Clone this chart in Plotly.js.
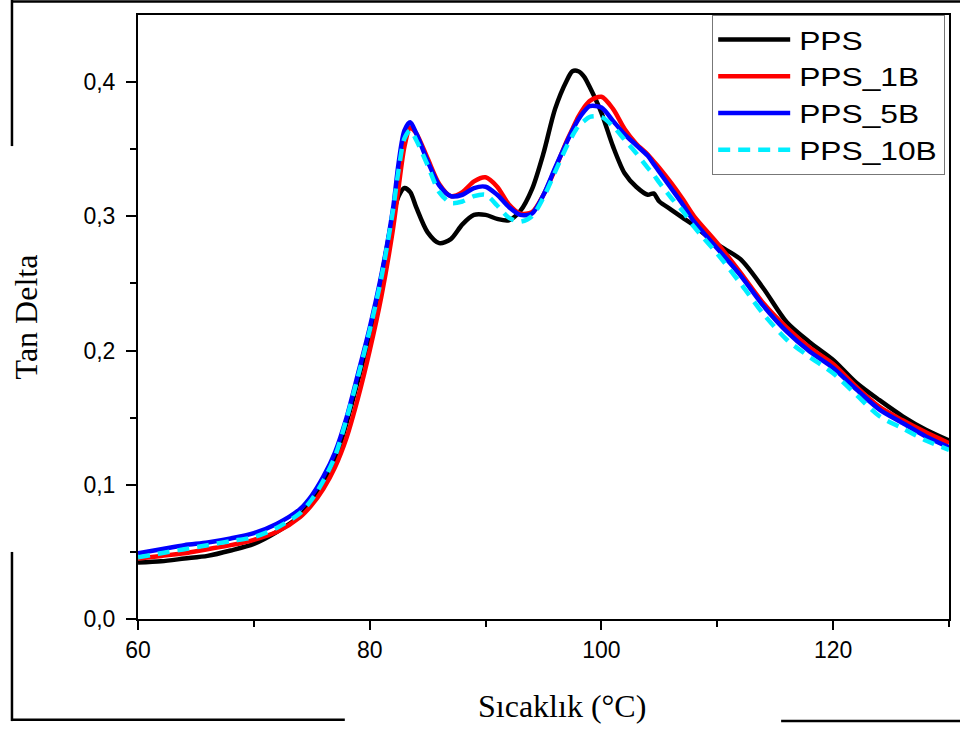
<!DOCTYPE html>
<html>
<head>
<meta charset="utf-8">
<script src="https://cdn.plot.ly/plotly-3.0.1.min.js"></script>
<style>
  html, body { margin: 0; padding: 0; background: #fff; }
  #chart { width: 960px; height: 729px; }
</style>
</head>
<body>
<div id="chart"></div>
<script>
// Temperature (°C)
const temperature = [60,62,64,66,68,70,72,74,75,76,77,78,79,80,81,82,82.5,83,83.5,84,85,86,87,88,89,90,91,92,93,94,95,96,97,97.5,98,98.5,99,100,101,102,103,104,104.5,105,106,107,108,110,112,114,116,118,120,122,124,126,128,130];

const seriesNames = ["PPS", "PPS_1B", "PPS_5B", "PPS_10B"];

const tanPPS = [0.042,0.043,0.045,0.047,0.051,0.056,0.065,0.077,
  0.088,0.101,0.118,0.146,0.178,0.212,0.254,0.300,
  0.315,0.321,0.318,
  0.307,0.288,0.280,0.283,0.294,0.301,0.301,0.298,0.297,0.304,0.320,0.347,0.380,0.401,0.408,0.408,0.404,0.396,0.377,0.352,0.332,0.322,0.316,
  0.317,0.311,
  0.305,0.299,0.293,
  0.279,0.268,0.246,0.221,0.206,0.193,0.176,0.163,0.151,0.141,0.133];

const tanPPS1B = [0.045,0.047,0.049,0.052,0.055,0.059,0.065,0.076,
  0.085,0.097,0.113,0.135,0.165,0.200,0.240,0.290,
  0.322,0.352,0.366,
  0.362,0.343,0.324,0.315,0.318,0.326,0.329,0.322,0.309,0.302,0.303,0.316,0.335,0.356,0.365,0.374,0.381,0.386,0.389,0.380,0.365,0.354,0.346,
  0.341,0.336,
  0.325,0.313,0.300,
  0.280,0.258,0.235,0.217,0.202,0.190,0.173,0.158,0.148,0.139,0.131];

const tanPPS5B = [0.049,0.052,0.055,0.057,0.060,0.064,0.071,0.082,
  0.092,0.106,0.124,0.150,0.183,0.217,0.256,0.305,
  0.340,0.364,0.370,
  0.362,0.341,0.323,0.315,0.316,0.321,0.322,0.316,0.307,0.301,0.302,0.316,0.336,0.355,0.364,0.372,0.378,0.382,0.381,0.371,0.361,0.353,0.345,
  0.339,0.333,
  0.321,0.309,0.296,
  0.276,0.256,0.233,0.214,0.199,0.187,0.171,0.156,0.146,0.136,0.128];

const tanPPS10B = [0.046,0.049,0.052,0.055,0.058,0.061,0.068,0.079,
  0.089,0.103,0.121,0.149,0.181,0.215,0.254,0.304,
  0.335,0.358,0.364,
  0.357,0.338,0.318,0.310,0.311,0.315,0.316,0.308,0.299,0.296,0.300,0.314,0.333,0.352,0.360,0.367,0.371,0.374,0.374,0.367,0.357,0.347,0.336,
  0.331,0.325,
  0.314,0.304,0.292,
  0.272,0.250,0.227,0.208,0.195,0.183,0.167,0.151,0.142,0.133,0.126];

const yTickVals = [0, 0.1, 0.2, 0.3, 0.4];
const xTickVals = [60, 80, 100, 120];
const xTitle = "Sıcaklık (°C)";
const yTitle = "Tan Delta";

const seriesValues = [tanPPS, tanPPS1B, tanPPS5B, tanPPS10B];
const seriesColors = ["#000000", "#ff0000", "#0000ff", "#00eeff"];
const seriesDash = ["solid", "solid", "solid", "12px,8px"];

const traces = seriesNames.map((name, i) => ({
  type: "scatter",
  mode: "lines",
  name: name,
  x: temperature,
  y: seriesValues[i],
  line: { color: seriesColors[i], width: 4.5, dash: seriesDash[i], shape: "spline", smoothing: 0.8 },
  hoverinfo: "skip"
}));

const frame = (x0, y0, x1, y1) => ({
  type: "line", xref: "paper", yref: "paper", x0, y0, x1, y1,
  line: { color: "#000", width: 2.5 }
});

const titleFont = { family: "Liberation Serif, Times New Roman, serif", size: 32, color: "#000" };

const layout = {
  width: 960, height: 729,
  margin: { l: 138, r: 11, t: 15, b: 110 },
  paper_bgcolor: "#fff", plot_bgcolor: "#fff",
  separators: ",.",
  showlegend: true,
  font: { family: "Liberation Sans, Arial, sans-serif", color: "#000", size: 22 },
  xaxis: {
    range: [60, 130],
    tickvals: xTickVals,
    ticks: "outside", ticklen: 9, tickwidth: 2, tickcolor: "#000",
    minor: { dtick: 10, tick0: 60, ticks: "outside", ticklen: 6, tickwidth: 2, tickcolor: "#000" },
    showline: true, linecolor: "#000", linewidth: 2, mirror: true,
    showgrid: false, zeroline: false,
    tickfont: { family: "Liberation Sans, Arial, sans-serif", size: 23, color: "#000" },
    ticklabelstandoff: 0
  },
  yaxis: {
    range: [0, 0.4499],
    tickvals: yTickVals,
    tickformat: ".1f",
    ticks: "outside", ticklen: 10, tickwidth: 2, tickcolor: "#000",
    minor: { dtick: 0.05, tick0: 0, ticks: "outside", ticklen: 6, tickwidth: 2, tickcolor: "#000" },
    showline: true, linecolor: "#000", linewidth: 2, mirror: true,
    showgrid: false, zeroline: false,
    tickfont: { family: "Liberation Sans, Arial, sans-serif", size: 23, color: "#000" },
    ticklabelstandoff: 6,
    title: { text: yTitle, font: titleFont, standoff: 36 }
  },
  annotations: [
    { text: xTitle, xref: "paper", yref: "paper", x: 0.523, y: -0.144,
      xanchor: "center", yanchor: "middle", showarrow: false, font: titleFont }
  ],
  legend: {
    x: 0.708, y: 1, xanchor: "left", yanchor: "top",
    bgcolor: "#fff", bordercolor: "#777", borderwidth: 1,
    font: { family: "Liberation Sans, Arial, sans-serif", size: 26, color: "#000" },
    itemwidth: 76,
    tracegroupgap: 0
  },
  shapes: [
    frame(-0.1554, 1.0225, 1.02, 1.0225),
    frame(-0.1554, 1.03, -0.1554, 0.783),
    frame(-0.1554, 0.111, -0.1554, -0.169),
    frame(-0.1554, -0.167, 0.255, -0.167),
    frame(0.793, -0.169, 1.02, -0.169)
  ]
};

Plotly.newPlot("chart", traces, layout, { staticPlot: true, displayModeBar: false }).then(() => {
  const legend = document.querySelector(".legend");
  if (!legend) return;
  // lengthen the legend line samples to match the reference
  legend.querySelectorAll(".legendlines path").forEach(p => {
    p.setAttribute("d", "M5,0h72");
  });
  // the reference legend lettering is horizontally wider
  legend.querySelectorAll("text.legendtext").forEach(t => {
    const w = t.getComputedTextLength();
    if (w > 0) {
      t.setAttribute("textLength", (w * 1.22).toFixed(1));
      t.setAttribute("lengthAdjust", "spacingAndGlyphs");
    }
  });
  legend.querySelectorAll("[clip-path]").forEach(el => el.removeAttribute("clip-path"));
  const bg = legend.querySelector("rect.bg");
  if (bg) bg.setAttribute("width", "232");
});
</script>
</body>
</html>
